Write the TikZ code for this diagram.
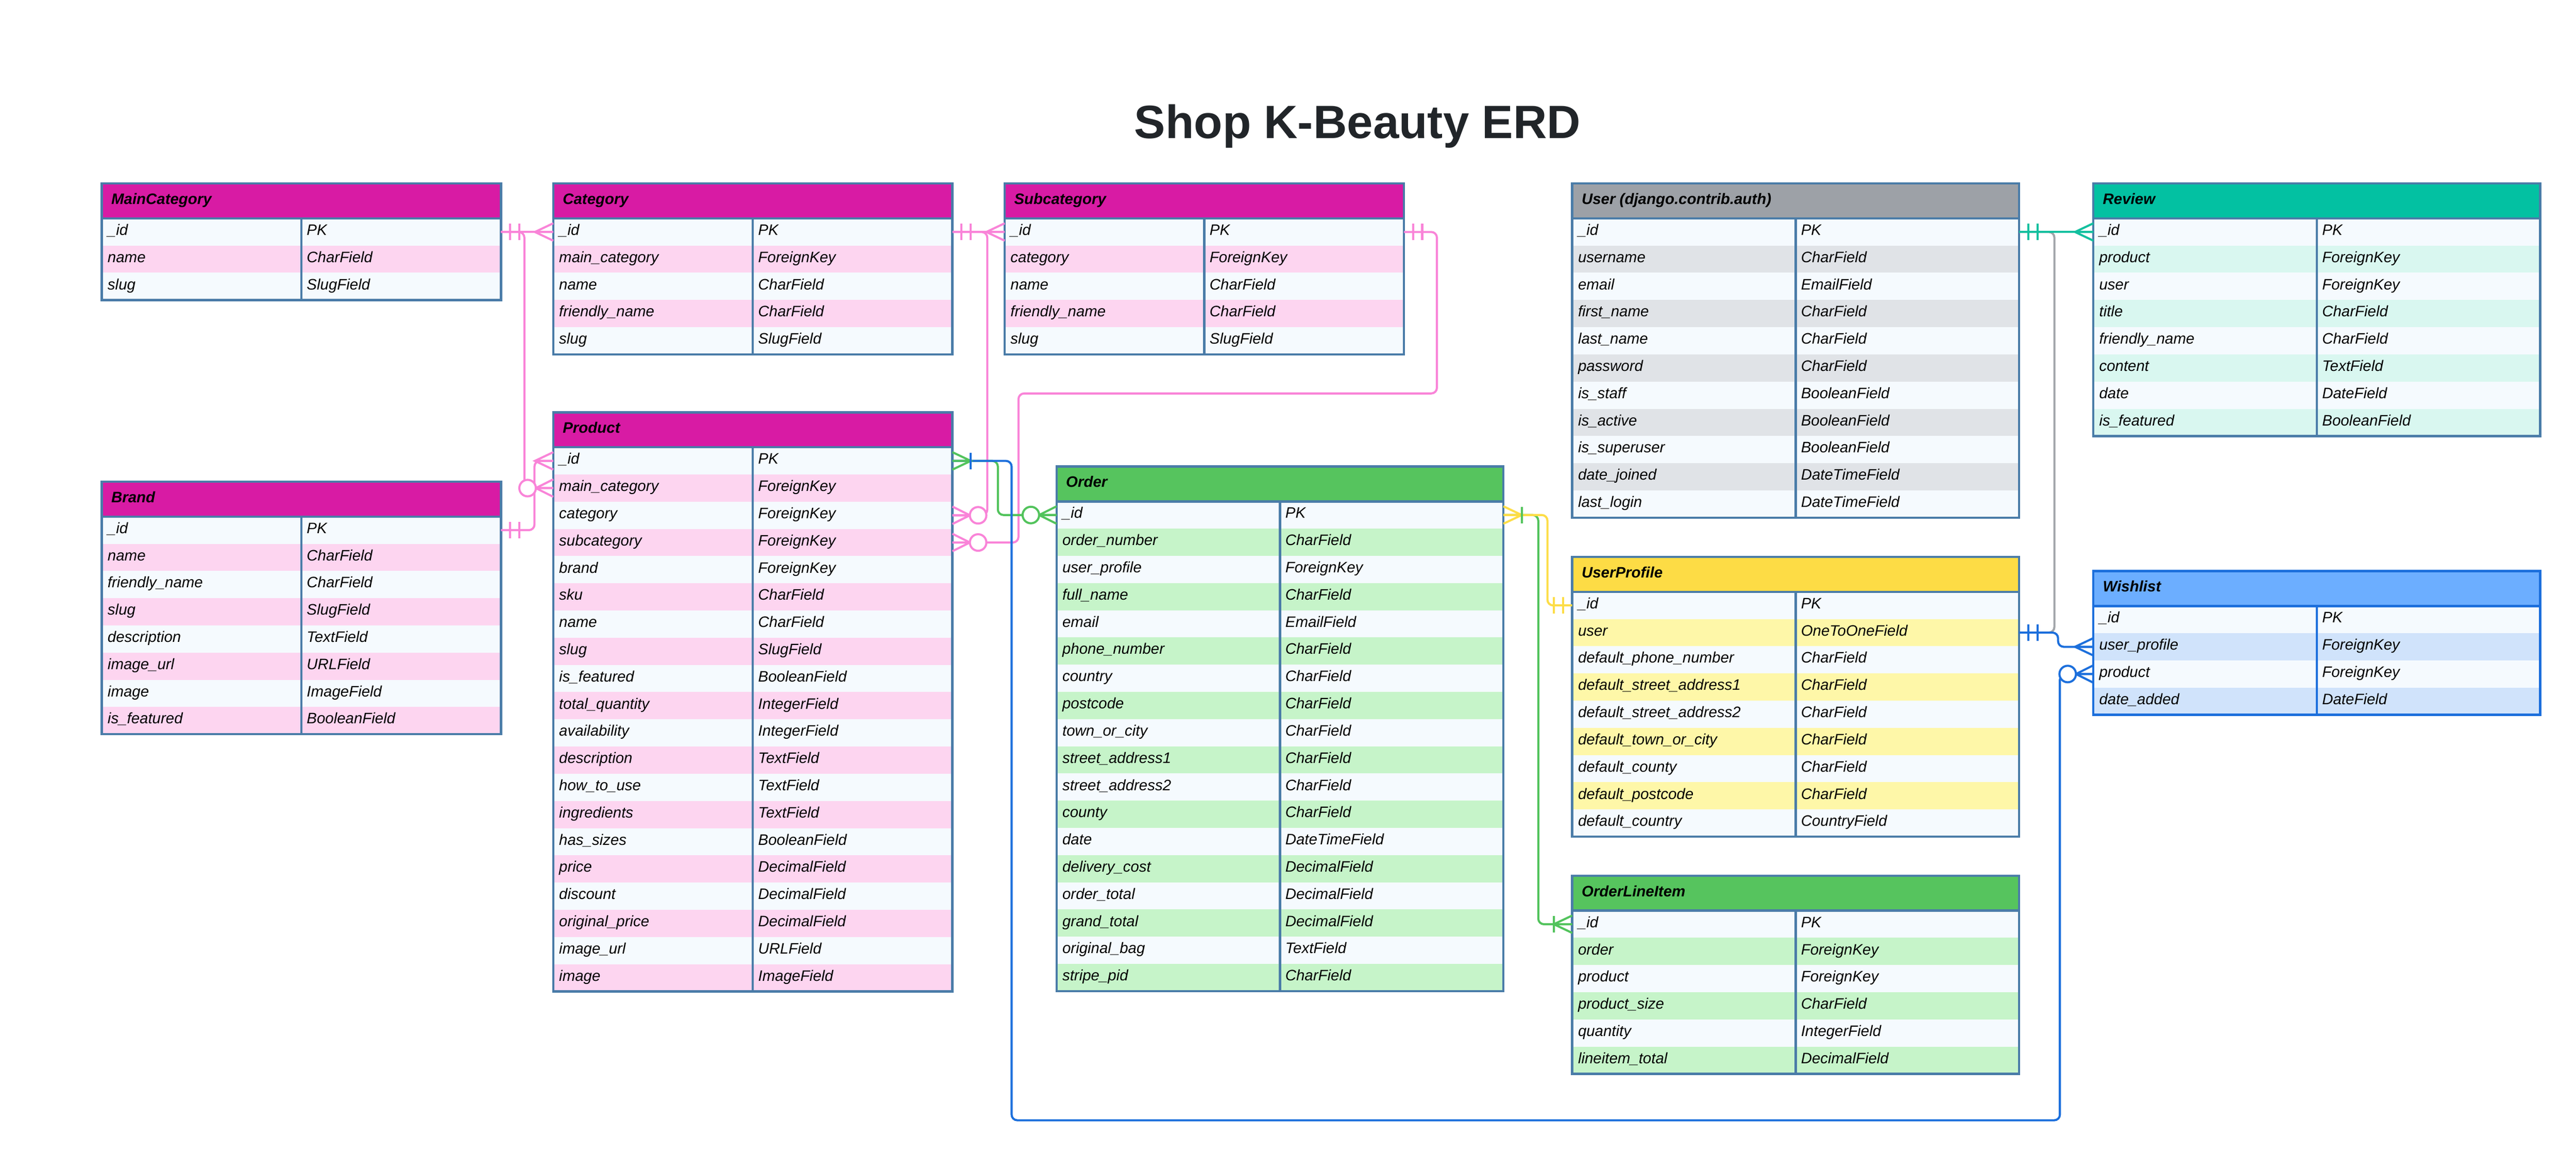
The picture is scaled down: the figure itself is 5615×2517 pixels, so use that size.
\documentclass[tikz,border=0pt]{standalone}
\usepackage{fontspec}
\setmainfont{Liberation Sans}
\usetikzlibrary{calc}

\definecolor{erdborder}{HTML}{4A7CA8}
\definecolor{erdwhite}{HTML}{F5FAFE}
\definecolor{erdmagenta}{HTML}{D81BA4}
\definecolor{erdpink}{HTML}{FDD5F0}
\definecolor{erdgray}{HTML}{9DA1A7}
\definecolor{erdgrayrow}{HTML}{E0E3E7}
\definecolor{erdteal}{HTML}{03C1A2}
\definecolor{erdtealrow}{HTML}{D9F7F0}
\definecolor{erdgreen}{HTML}{56C45E}
\definecolor{erdgreenrow}{HTML}{C6F4C9}
\definecolor{erdyellow}{HTML}{FDDC45}
\definecolor{erdyellowrow}{HTML}{FEF7A8}
\definecolor{erdblue}{HTML}{6CAEFF}
\definecolor{erdbluerow}{HTML}{D0E3FB}
\definecolor{pinkline}{HTML}{F984D8}
\definecolor{grayline}{HTML}{A2A5AA}
\definecolor{tealline}{HTML}{13C09F}
\definecolor{greenline}{HTML}{52C35C}
\definecolor{yellowline}{HTML}{FDDD47}
\definecolor{blueline}{HTML}{1C6FDC}
\definecolor{titletext}{HTML}{212529}

\newcommand{\erdsize}{\fontsize{9.4pt}{11pt}\selectfont}

\tikzset{
  erdhead/.style={shape=rectangle, inner sep=0pt, outer sep=0pt, anchor=north west, minimum height=0.76cm},
  erdrow/.style={shape=rectangle, inner sep=0pt, outer sep=0pt, anchor=north west, minimum height=0.593cm},
  erdtitle/.style={anchor=base west, inner sep=0pt, font=\erdsize\bfseries\itshape, text=black},
  erdtext/.style={anchor=base west, inner sep=0pt, font=\erdsize\itshape, text=black},
  erdframe/.style={line width=1.4pt},
  erlink/.style={line width=1.3pt, rounded corners=3.5pt},
  ermark/.style={line width=1.3pt},
  pics/erone/.style={code={\draw (40,-18) -- (40,18);}},
  pics/eroneonly/.style={code={\draw (20,-18) -- (20,18) (40,-18) -- (40,18);}},
  pics/ermany/.style={code={\draw (0,-19) -- (40,0) -- (0,19) (0,0) -- (40,0);}},
  pics/eronemany/.style={code={\draw (0,-19) -- (40,0) -- (0,19) (0,0) -- (40,0) (40,-18) -- (40,18);}},
  pics/erzeromany/.style={code={\draw (0,-19) -- (38,0) -- (0,19) (0,0) -- (38,0); \draw[fill=white] (56,0) circle[radius=0.18cm];}}
}

\newcommand{\erdtable}[9]{%
  \node[erdhead, minimum width=#4*0.01cm, fill=#5] (#1) at (#2,#3) {};
  \node[erdtitle] (#1-title) at ($(#1.west)+(20,7)$) {#8};
  \foreach \fld/\typ [count=\i] in {#9} {
    \ifodd\i \def\rowfill{erdwhite}\else\def\rowfill{#6}\fi
    \pgfmathsetmacro{\rowtop}{#3+76+(\i-1)*59.3}
    \node[erdrow, minimum width=#4*0.01cm, fill=\rowfill] (#1-\i) at (#2,\rowtop) {};
    \node[erdtext] (#1-\i-f) at ($(#1-\i.west)+(12,7)$) {\fld};
    \node[erdtext] (#1-\i-t) at ($(#1-\i.center)+(11,7)$) {\typ};
    \xdef\erdlast{\i}
  }
  \draw[erdframe, draw=#7] (#1.south west) -- (#1.south east);
  \draw[erdframe, draw=#7] (#1.south) -- (#1-\erdlast.south);
  \draw[erdframe, draw=#7] (#1.north west) rectangle (#1-\erdlast.south east);
}

\begin{document}
\begin{tikzpicture}[x=0.01cm, y=-0.01cm]

\fill[white] (0,0) rectangle (5615,2517);
\useasboundingbox (0,0) rectangle (5615,2517);

\node[anchor=base, inner sep=0pt, font=\fontsize{28.95pt}{34pt}\selectfont\bfseries, text=titletext] (heading) at (2959,301) {Shop K-Beauty ERD};

\erdtable{mcat}{222}{400}{870}{erdmagenta}{erdpink}{erdborder}{MainCategory}{\_id/PK, name/CharField, slug/SlugField}
\erdtable{cat}{1206}{400}{870}{erdmagenta}{erdpink}{erdborder}{Category}{\_id/PK, main\_category/ForeignKey, name/CharField, friendly\_name/CharField, slug/SlugField}
\erdtable{subcat}{2190}{400}{870}{erdmagenta}{erdpink}{erdborder}{Subcategory}{\_id/PK, category/ForeignKey, name/CharField, friendly\_name/CharField, slug/SlugField}
\erdtable{brand}{222}{1050}{870}{erdmagenta}{erdpink}{erdborder}{Brand}{\_id/PK, name/CharField, friendly\_name/CharField, slug/SlugField, description/TextField, image\_url/URLField, image/ImageField, is\_featured/BooleanField}
\erdtable{prod}{1206}{899}{870}{erdmagenta}{erdpink}{erdborder}{Product}{\_id/PK, main\_category/ForeignKey, category/ForeignKey, subcategory/ForeignKey, brand/ForeignKey, sku/CharField, name/CharField, slug/SlugField, is\_featured/BooleanField, total\_quantity/IntegerField, availability/IntegerField, description/TextField, how\_to\_use/TextField, ingredients/TextField, has\_sizes/BooleanField, price/DecimalField, discount/DecimalField, original\_price/DecimalField, image\_url/URLField, image/ImageField}
\erdtable{order}{2303}{1017}{974}{erdgreen}{erdgreenrow}{erdborder}{Order}{\_id/PK, order\_number/CharField, user\_profile/ForeignKey, full\_name/CharField, email/EmailField, phone\_number/CharField, country/CharField, postcode/CharField, town\_or\_city/CharField, street\_address1/CharField, street\_address2/CharField, county/CharField, date/DateTimeField, delivery\_cost/DecimalField, order\_total/DecimalField, grand\_total/DecimalField, original\_bag/TextField, stripe\_pid/CharField}
\erdtable{user}{3427}{400}{974}{erdgray}{erdgrayrow}{erdborder}{User (django.contrib.auth)}{\_id/PK, username/CharField, email/EmailField, first\_name/CharField, last\_name/CharField, password/CharField, is\_staff/BooleanField, is\_active/BooleanField, is\_superuser/BooleanField, date\_joined/DateTimeField, last\_login/DateTimeField}
\erdtable{uprof}{3427}{1214}{974}{erdyellow}{erdyellowrow}{erdborder}{UserProfile}{\_id/PK, user/OneToOneField, default\_phone\_number/CharField, default\_street\_address1/CharField, default\_street\_address2/CharField, default\_town\_or\_city/CharField, default\_county/CharField, default\_postcode/CharField, default\_country/CountryField}
\erdtable{oli}{3427}{1909}{974}{erdgreen}{erdgreenrow}{erdborder}{OrderLineItem}{\_id/PK, order/ForeignKey, product/ForeignKey, product\_size/CharField, quantity/IntegerField, lineitem\_total/DecimalField}
\erdtable{review}{4563}{400}{974}{erdteal}{erdtealrow}{erdborder}{Review}{\_id/PK, product/ForeignKey, user/ForeignKey, title/CharField, friendly\_name/CharField, content/TextField, date/DateField, is\_featured/BooleanField}
\erdtable{wish}{4563}{1245}{974}{erdblue}{erdbluerow}{blueline}{Wishlist}{\_id/PK, user\_profile/ForeignKey, product/ForeignKey, date\_added/DateField}

\coordinate (wishloop) at (2205,2442);

\draw[erlink, pinkline] (mcat-1.east) -- (cat-1.west);
\draw[erlink, pinkline] (mcat-1.east) -- ++(51,0) |- (prod-2.west);
\draw[erlink, pinkline] (brand-1.east) -- ++(73,0) |- (prod-1.west);
\draw[erlink, pinkline] (cat-1.east) -- (subcat-1.west);
\draw[erlink, pinkline] (cat-1.east) -- ++(76,0) |- (prod-3.east);
\draw[erlink, pinkline] (subcat-1.east) -| ++(72,352) -| ($(prod-4.east)+(144,0)$) -- (prod-4.east);
\draw[erlink, greenline] (prod-1.east) -- ++(99,0) |- (order-1.west);
\draw[erlink, blueline] (prod-1.east) -| (wishloop) -| ($(wish-3.west)+(-73,0)$) -- (wish-3.west);
\draw[erlink, greenline] (order-1.east) -- ++(76,0) |- (oli-1.west);
\draw[erlink, yellowline] (order-1.east) -- ++(96,0) |- (uprof-1.west);
\draw[erlink, grayline] (user-1.east) -- ++(77,0) |- (uprof-2.east);
\draw[erlink, tealline] (user-1.east) -- (review-1.west);
\draw[erlink, blueline] (uprof-2.east) -- ++(85,0) |- (wish-2.west);

\pic[pinkline, ermark] at (mcat-1.east) {eroneonly};
\pic[pinkline, ermark, xscale=-1] at (cat-1.west) {ermany};
\pic[pinkline, ermark, xscale=-1] at (prod-2.west) {erzeromany};
\pic[pinkline, ermark] at (brand-1.east) {eroneonly};
\pic[pinkline, ermark, xscale=-1] at (prod-1.west) {ermany};
\pic[pinkline, ermark] at (cat-1.east) {eroneonly};
\pic[pinkline, ermark, xscale=-1] at (subcat-1.west) {ermany};
\pic[pinkline, ermark] at (prod-3.east) {erzeromany};
\pic[pinkline, ermark] at (subcat-1.east) {eroneonly};
\pic[pinkline, ermark] at (prod-4.east) {erzeromany};
\pic[greenline, ermark] at (prod-1.east) {ermany};
\pic[blueline, ermark] at (prod-1.east) {erone};
\pic[greenline, ermark, xscale=-1] at (order-1.west) {erzeromany};
\pic[blueline, ermark, xscale=-1] at (wish-3.west) {erzeromany};
\pic[yellowline, ermark] at (order-1.east) {ermany};
\pic[greenline, ermark] at (order-1.east) {erone};
\pic[yellowline, ermark, xscale=-1] at (uprof-1.west) {eroneonly};
\pic[greenline, ermark, xscale=-1] at (oli-1.west) {eronemany};
\pic[tealline, ermark] at (user-1.east) {eroneonly};
\pic[tealline, ermark, xscale=-1] at (review-1.west) {ermany};
\pic[blueline, ermark] at (uprof-2.east) {eroneonly};
\pic[blueline, ermark, xscale=-1] at (wish-2.west) {ermany};

\end{tikzpicture}
\end{document}
